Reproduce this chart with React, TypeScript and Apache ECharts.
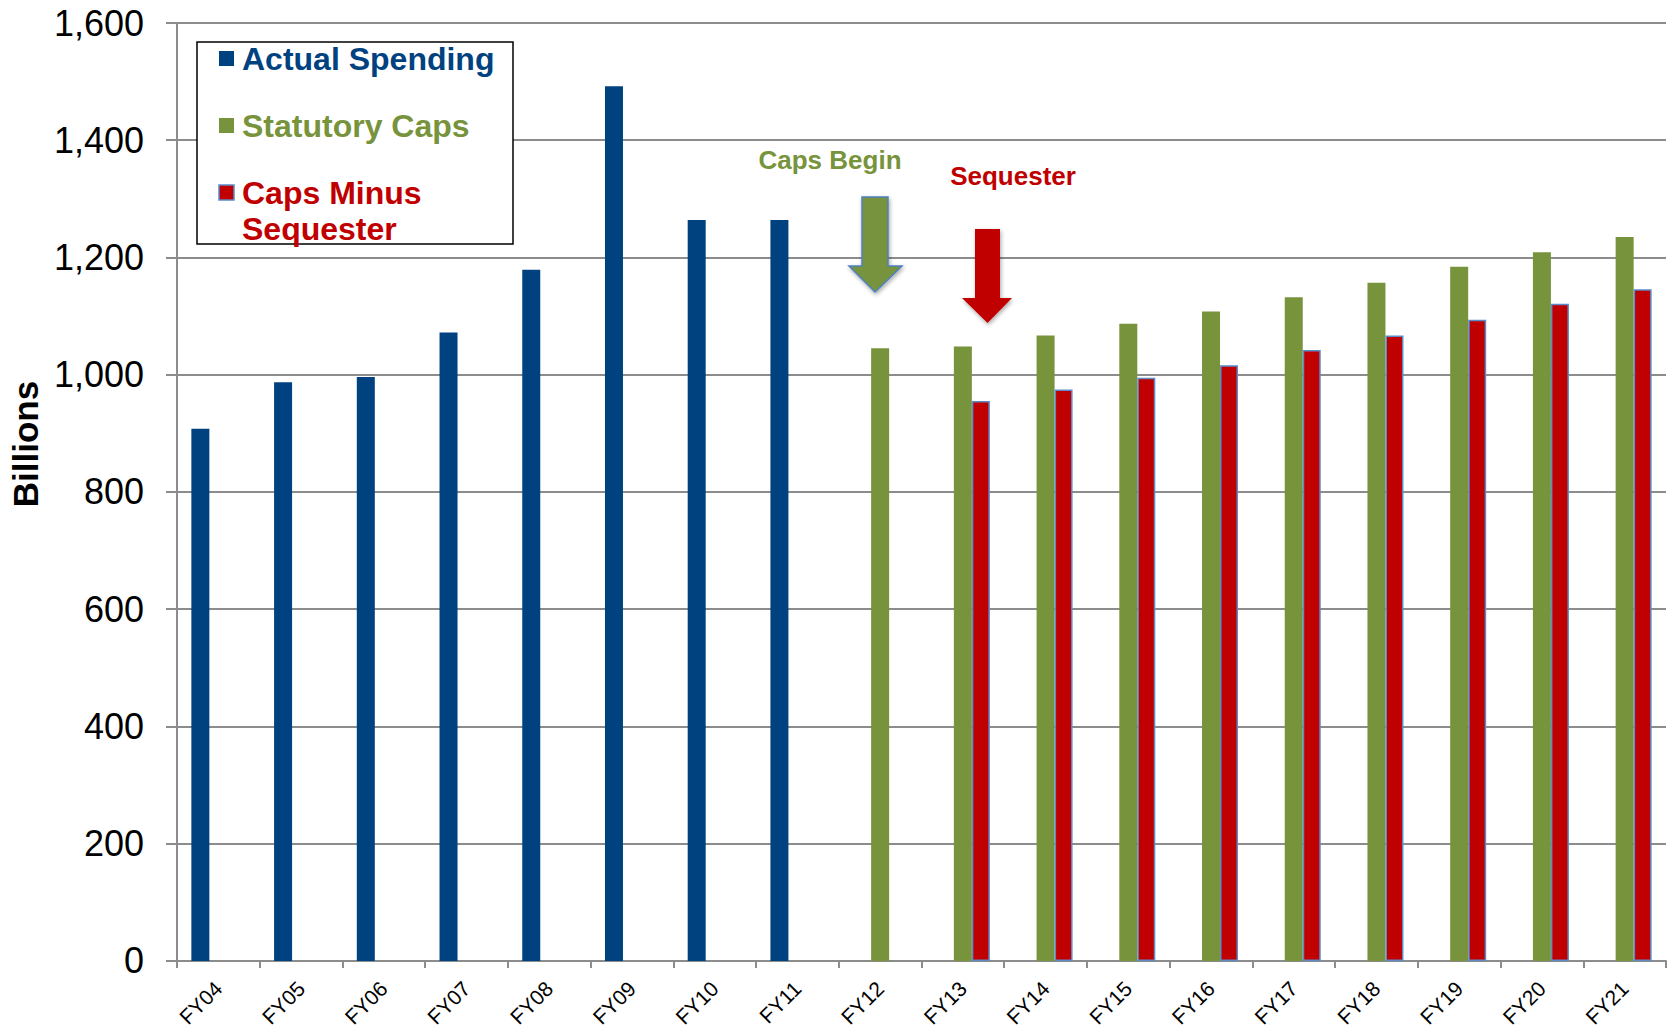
import React, { useEffect, useRef } from "react";
import * as echarts from "echarts";

const categories = ["FY04","FY05","FY06","FY07","FY08","FY09","FY10","FY11","FY12","FY13","FY14","FY15","FY16","FY17","FY18","FY19","FY20","FY21"];
const actualSpending = [908, 987, 996, 1072, 1179, 1492, 1264, 1264, null, null, null, null, null, null, null, null, null, null];
const statutoryCaps = [null, null, null, null, null, null, null, null, 1045, 1048, 1067, 1087, 1108, 1132, 1157, 1184, 1209, 1235];
const capsMinusSequester = [null, null, null, null, null, null, null, null, null, 955, 975, 995, 1016, 1042, 1067, 1094, 1121, 1146];
const yTicks = { min: 0, max: 1600, interval: 200 };

const BLUE = "#00427F";
const GREEN = "#77933C";
const RED = "#C00000";
const FONT = "'Liberation Sans', Arial, sans-serif";

export default function App() {
  const ref = useRef<HTMLDivElement>(null);
  useEffect(() => {
    document.body.style.margin = "0";
    const chart = echarts.init(ref.current!, null, { renderer: "svg" });
    const legendText = (x: number, y: number, text: string, color: string) => ({
      type: "text", x, y,
      style: { text, fill: color, font: `bold 32px ${FONT}`, textVerticalAlign: "middle", textAlign: "left" },
    });
    chart.setOption({
      animation: false,
      backgroundColor: "#fff",
      grid: { left: 177, right: 4, top: 23, bottom: 65, containLabel: false },
      xAxis: {
        type: "category",
        data: categories,
        axisLine: { lineStyle: { color: "#8C8C8C", width: 2 } },
        axisTick: { show: true, length: 7, lineStyle: { color: "#8C8C8C", width: 2 } },
        axisLabel: { rotate: 45, interval: 0, fontSize: 21, color: "#000", fontFamily: FONT, margin: 24 },
      },
      yAxis: {
        type: "value",
        min: yTicks.min, max: yTicks.max, interval: yTicks.interval,
        axisLine: { show: true, lineStyle: { color: "#8C8C8C", width: 2 } },
        axisTick: { show: true, length: 11, lineStyle: { color: "#8C8C8C", width: 2 } },
        splitLine: { lineStyle: { color: "#8C8C8C", width: 2 } },
        axisLabel: {
          fontSize: 36, color: "#000", fontFamily: FONT, margin: 33,
          formatter: (v: number) => v.toLocaleString("en-US"),
        },
      },
      series: [
        { name: "Actual Spending", type: "bar", data: actualSpending, barWidth: 18, barGap: "0%", itemStyle: { color: BLUE } },
        { name: "Statutory Caps", type: "bar", data: statutoryCaps, barWidth: 18, barGap: "0%", itemStyle: { color: GREEN } },
        { name: "Caps Minus Sequester", type: "bar", data: capsMinusSequester, barWidth: 18, barGap: "0%", itemStyle: { color: RED, borderColor: "#5B8BC9", borderWidth: 1.5 } },
      ],
      graphic: [
        { type: "text", x: 25, y: 444, rotation: Math.PI / 2,
          style: { text: "Billions", fill: "#000", font: `bold 35px ${FONT}`, textAlign: "center", textVerticalAlign: "middle" } },
        { type: "rect", shape: { x: 197, y: 42, width: 316, height: 202 }, style: { fill: "#fff", stroke: "#000", lineWidth: 1.5 }, z: 10 },
        { type: "rect", shape: { x: 219, y: 51, width: 15, height: 15 }, style: { fill: BLUE }, z: 11 },
        { type: "rect", shape: { x: 219, y: 118, width: 15, height: 15 }, style: { fill: GREEN }, z: 11 },
        { type: "rect", shape: { x: 219, y: 185, width: 15, height: 15 }, style: { fill: RED, stroke: "#5B8BC9", lineWidth: 1.5 }, z: 11 },
        { ...legendText(242, 59, "Actual Spending", BLUE), z: 11 },
        { ...legendText(242, 126, "Statutory Caps", GREEN), z: 11 },
        { ...legendText(242, 193, "Caps Minus", RED), z: 11 },
        { ...legendText(242, 229, "Sequester", RED), z: 11 },
        { type: "text", x: 830, y: 160, style: { text: "Caps Begin", fill: GREEN, font: `bold 26px ${FONT}`, textAlign: "center", textVerticalAlign: "middle" }, z: 11 },
        { type: "text", x: 1013, y: 176, style: { text: "Sequester", fill: RED, font: `bold 26px ${FONT}`, textAlign: "center", textVerticalAlign: "middle" }, z: 11 },
        { type: "polygon", z: 11,
          shape: { points: [[862, 197], [888, 197], [888, 266], [902, 266], [875, 292], [849, 266], [862, 266]] },
          style: { fill: GREEN, stroke: "#4F81BD", lineWidth: 1.5, shadowBlur: 4, shadowColor: "rgba(0,0,0,0.35)", shadowOffsetX: 1, shadowOffsetY: 2 } },
        { type: "polygon", z: 11,
          shape: { points: [[975, 229], [1000, 229], [1000, 298], [1012, 298], [987.5, 323], [962, 298], [975, 298]] },
          style: { fill: RED, shadowBlur: 4, shadowColor: "rgba(0,0,0,0.35)", shadowOffsetX: 1, shadowOffsetY: 2 } },
      ],
    });
    return () => chart.dispose();
  }, []);
  return <div ref={ref} style={{ width: 1670, height: 1030 }} />;
}
